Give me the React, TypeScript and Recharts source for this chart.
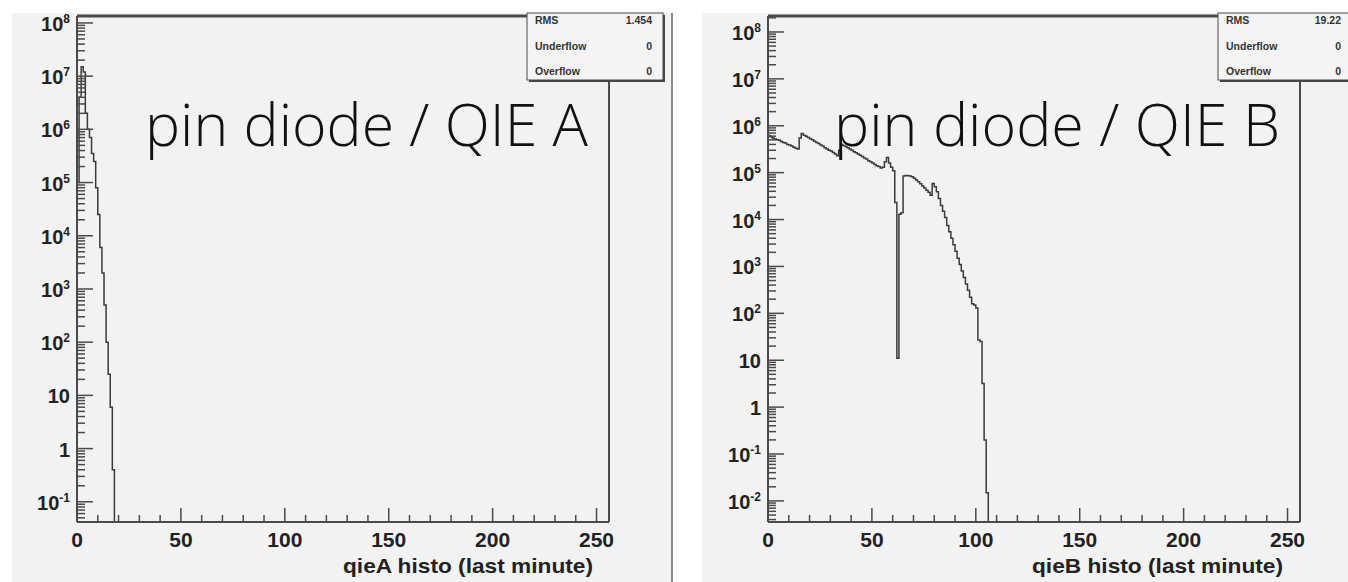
import React from "react";
import { LineChart, Line, XAxis, YAxis } from "recharts";

// qieA bin contents, unit-wide bins starting at 0 (empty bins are 0)
const qieACounts = [
  1e5, 4e6, 1.5e7, 1.2e7, 2e6, 1e6, 7e5, 3.5e5, 2.5e5, 8e4,
  2.5e4, 6e3, 2e3, 500, 100, 25, 6, 0.4, 0,
];

// qieB bin contents, same binning
const qieBCounts = [
  6.2e5, 5.8e5, 5.5e5, 5.2e5, 5.0e5, 4.9e5, 4.6e5, 4.4e5, 4.3e5, 4.0e5,
  3.9e5, 3.7e5, 3.5e5, 3.3e5, 3.2e5, 5.5e5, 6.8e5, 6.3e5, 6.0e5, 5.6e5,
  5.3e5, 5.0e5, 4.7e5, 4.4e5, 4.2e5, 3.9e5, 3.7e5, 3.4e5, 3.2e5, 3.0e5,
  2.9e5, 2.7e5, 2.5e5, 2.3e5, 3.0e5, 4.0e5, 3.8e5, 3.6e5, 3.4e5, 3.2e5,
  3.0e5, 2.8e5, 2.65e5, 2.5e5, 2.35e5, 2.2e5, 2.05e5, 1.95e5, 1.8e5, 1.7e5,
  1.6e5, 1.5e5, 1.4e5, 1.35e5, 1.25e5, 1.3e5, 1.7e5, 2.1e5, 1.6e5, 1.3e5,
  1.1e5, 2.3e4, 11, 1.3e4, 1.4e4, 8.5e4, 8.7e4, 8.6e4, 8.5e4, 8.2e4,
  7.6e4, 7.0e4, 6.4e4, 5.8e4, 5.2e4, 4.7e4, 4.2e4, 3.8e4, 3.3e4, 5.9e4,
  5.0e4, 3.9e4, 2.8e4, 2.0e4, 1.5e4, 1.1e4, 7.5e3, 5.5e3, 4.0e3, 2.9e3,
  2.1e3, 1.5e3, 1.1e3, 800, 580, 420, 310, 220, 160, 150,
  130, 27, 25, 3.2, 0.2, 0.015, 0,
];

// x axis: major labels every 50, minor ticks every 10
const xTicks = [0, 10, 20, 30, 40, 50, 60, 70, 80, 90, 100, 110, 120, 130, 140, 150,
  160, 170, 180, 190, 200, 210, 220, 230, 240, 250];
const xMax = 256;

// log axis decades and the sub-decade minor ticks
const decades = [-3, -2, -1, 0, 1, 2, 3, 4, 5, 6, 7, 8];
const minorSteps = [2, 3, 4, 5, 6, 7, 8, 9];

const qieADomain: [number, number] = [0.0417, 1.35e8];
const qieBDomain: [number, number] = [0.00355, 2.19e8];

const statsA = { rms: "1.454", underflow: "0", overflow: "0" };
const statsB = { rms: "19.22", underflow: "0", overflow: "0" };

const FLOOR = 1e-6;
const FRAME = "#4a4a4a";
const CANVAS = "#f2f2f2";
const AXIS_FONT = "'Liberation Sans', Arial, Helvetica, sans-serif";

const logTicks = (lo: number, hi: number) =>
  decades
    .flatMap((e) => [1, ...minorSteps].map((m) => m * Math.pow(10, e)))
    .filter((v) => v >= lo && v <= hi);

const LogTick = (props: any) => {
  const { x, y, payload } = props;
  const lg = Math.log10(payload.value);
  const exp = Math.round(lg);
  const major = Math.abs(lg - exp) < 1e-9;
  const base = exp === 0 ? "1" : "10";
  const sup = exp === 0 || exp === 1 ? null : String(exp);
  return (
    <g>
      <line x1={x} x2={x + (major ? 16 : 8)} y1={y} y2={y} stroke={FRAME} strokeWidth={1.5} />
      {major && (
        <text
          x={x - 7}
          y={y + 8}
          textAnchor="end"
          fontFamily={AXIS_FONT}
          fontWeight="bold"
          fontSize={20}
          fill="#222"
        >
          <tspan>{base}</tspan>
          {sup && (
            <tspan dy={-8} fontSize={12}>
              {sup}
            </tspan>
          )}
        </text>
      )}
    </g>
  );
};

const LinTick = (props: any) => {
  const { x, y, payload } = props;
  const major = payload.value % 50 === 0;
  return (
    <g>
      <line x1={x} x2={x} y1={y} y2={y - (major ? 14 : 7)} stroke={FRAME} strokeWidth={1.5} />
      {major && (
        <text
          x={x}
          y={y + 25}
          textAnchor="middle"
          fontFamily={AXIS_FONT}
          fontWeight="bold"
          fontSize={21}
          fill="#222"
        >
          {payload.value}
        </text>
      )}
    </g>
  );
};

type PanelProps = {
  counts: number[];
  domain: [number, number];
  left: number;
  width: number;
  axisWidth: number;
  rightGap: number;
};

// plot frame spans y 16..522 on the page; the panel canvas starts at y 13
const HistoPanel = ({ counts, domain, left, width, axisWidth, rightGap }: PanelProps) => {
  const data = counts.map((c, i) => ({ bin: i, n: c > 0 ? c : FLOOR }));
  return (
    <div style={{ position: "absolute", left, top: 13, width, height: 569, background: CANVAS }}>
      <LineChart
        width={width}
        height={569}
        data={data}
        margin={{ top: 1, right: rightGap, bottom: 0, left: 0 }}
      >
        <XAxis
          dataKey="bin"
          type="number"
          domain={[0, xMax]}
          allowDataOverflow
          ticks={xTicks}
          interval={0}
          tick={LinTick}
          tickLine={false}
          tickSize={0}
          tickMargin={0}
          height={60}
          axisLine={{ stroke: FRAME, strokeWidth: 2 }}
        />
        <XAxis
          xAxisId="top"
          orientation="top"
          type="number"
          domain={[0, xMax]}
          tick={false}
          tickLine={false}
          height={2}
          axisLine={{ stroke: FRAME, strokeWidth: 3 }}
        />
        <YAxis
          type="number"
          scale="log"
          domain={domain}
          allowDataOverflow
          ticks={logTicks(domain[0], domain[1])}
          interval={0}
          tick={LogTick}
          tickLine={false}
          tickSize={0}
          tickMargin={0}
          width={axisWidth}
          axisLine={{ stroke: FRAME, strokeWidth: 2 }}
        />
        <YAxis
          yAxisId="right"
          orientation="right"
          type="number"
          domain={[0, 1]}
          tick={false}
          tickLine={false}
          width={1}
          axisLine={{ stroke: FRAME, strokeWidth: 2 }}
        />
        <Line
          type="stepAfter"
          dataKey="n"
          stroke="#3a3a3a"
          strokeWidth={1.5}
          dot={false}
          isAnimationActive={false}
        />
      </LineChart>
    </div>
  );
};

const StatsBox = ({ x, stats, valueX }: { x: number; stats: typeof statsA; valueX: number }) => {
  const rows: [string, string, number][] = [
    ["RMS", stats.rms, 24],
    ["Underflow", stats.underflow, 50],
    ["Overflow", stats.overflow, 75],
  ];
  return (
    <g>
      <rect x={x + 2} y={15} width={136} height={67} fill="#444" />
      <rect x={x} y={13} width={136} height={67} fill="#f4f4f4" stroke={FRAME} strokeWidth={1} />
      {rows.map(([label, value, y]) => (
        <g key={label} fontFamily={AXIS_FONT} fontWeight="bold" fontSize={10.5} fill="#333">
          <text x={x + 8} y={y}>
            {label}
          </text>
          <text x={valueX} y={y} textAnchor="end">
            {value}
          </text>
        </g>
      ))}
    </g>
  );
};

const App = () => {
  return (
    <div style={{ position: "absolute", left: 0, top: 0, width: 1348, height: 582, background: "#fff", overflow: "hidden" }}>
      <HistoPanel counts={qieACounts} domain={qieADomain} left={12} width={660} axisWidth={65} rightGap={62} />
      <HistoPanel counts={qieBCounts} domain={qieBDomain} left={702} width={646} axisWidth={66} rightGap={47} />
      <svg
        width={1348}
        height={582}
        style={{ position: "absolute", left: 0, top: 0, pointerEvents: "none" }}
      >
        <line x1={672} x2={672} y1={13} y2={582} stroke="#8a8a8a" strokeWidth={2} />
        <StatsBox x={527} stats={statsA} valueX={652} />
        <StatsBox x={1218} stats={statsB} valueX={1341} />
        <g fontFamily="'Open Sans', Roboto, 'Liberation Sans', sans-serif" fontWeight={300} fontSize={58} fill="#111">
          <text x={145} y={146} textLength={443} lengthAdjust="spacingAndGlyphs">
            pin diode / QIE A
          </text>
          <text x={834} y={146} textLength={446} lengthAdjust="spacingAndGlyphs">
            pin diode / QIE B
          </text>
        </g>
        <g fontFamily={AXIS_FONT} fontWeight="bold" fontSize={21} fill="#222">
          <text x={593} y={573} textAnchor="end" textLength={250} lengthAdjust="spacingAndGlyphs">
            qieA histo (last minute)
          </text>
          <text x={1283} y={573} textAnchor="end" textLength={251} lengthAdjust="spacingAndGlyphs">
            qieB histo (last minute)
          </text>
        </g>
      </svg>
    </div>
  );
};

export default App;
